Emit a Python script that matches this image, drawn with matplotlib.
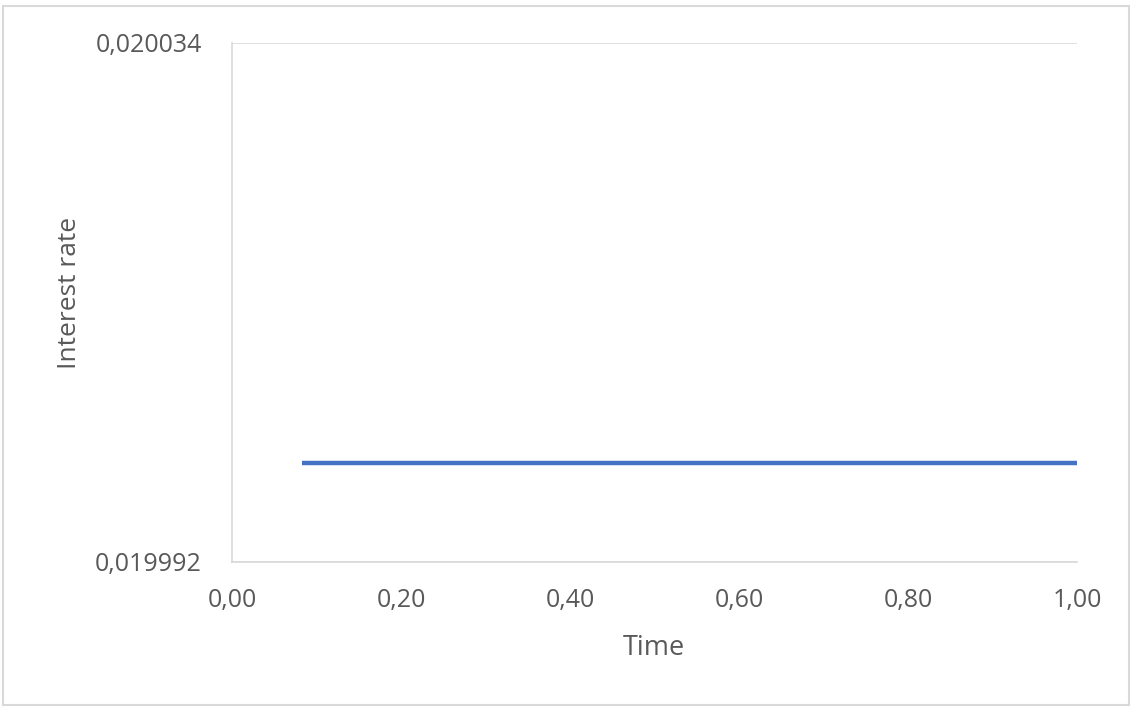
import matplotlib
matplotlib.use("Agg")
import matplotlib.pyplot as plt
from matplotlib.ticker import FuncFormatter
from matplotlib.patches import Rectangle

# monthly points over one year, flat rate
time = [1/12, 2/12, 3/12, 4/12, 5/12, 6/12, 7/12, 8/12, 9/12, 10/12, 11/12, 12/12]
rate = [0.02, 0.02, 0.02, 0.02, 0.02, 0.02, 0.02, 0.02, 0.02, 0.02, 0.02, 0.02]
x_ticks = [0.0, 0.2, 0.4, 0.6, 0.8, 1.0]
y_ticks = [0.019992, 0.020034]

plt.rcParams['font.family'] = ['Open Sans', 'DejaVu Sans']
txt = '#595959'

fig = plt.figure(figsize=(11.32, 7.07), dpi=100)
fig.patches.append(Rectangle((0.003, 0.003), 0.994, 0.989, transform=fig.transFigure,
                             fill=False, edgecolor='#D9D9D9', linewidth=1.5))
ax = fig.add_axes([0.2049, 0.2051, 0.7465, 0.7341])

ax.plot(time, rate, color='#4472C4', linewidth=3.2, solid_capstyle='butt')

ax.set_xlim(0, 1)
ax.set_ylim(y_ticks[0], y_ticks[-1])
ax.set_xticks(x_ticks)
ax.set_yticks(y_ticks)
ax.xaxis.set_major_formatter(FuncFormatter(lambda v, p: f"{v:.2f}".replace('.', ',')))
ax.yaxis.set_major_formatter(FuncFormatter(lambda v, p: f"{v:.6f}".replace('.', ',')))
ax.tick_params(length=0, labelsize=18, labelcolor=txt)
ax.tick_params(axis='x', pad=19)
ax.tick_params(axis='y', pad=21.6)
ax.grid(axis='y', color='#D9D9D9', linewidth=1.2)
ax.set_axisbelow(True)

for s in ['top', 'right']:
    ax.spines[s].set_visible(False)
for s in ['left', 'bottom']:
    ax.spines[s].set_color('#D9D9D9')
    ax.spines[s].set_linewidth(1.2)

ax.set_xlabel('Time', fontsize=19.5, color=txt, va='center')
ax.xaxis.set_label_coords(0.499, -0.1657)
ax.set_ylabel('Interest rate', fontsize=19, color=txt, va='center')
ax.yaxis.set_label_coords(-0.1917, 0.518)

fig.savefig('out.png', dpi=100)
